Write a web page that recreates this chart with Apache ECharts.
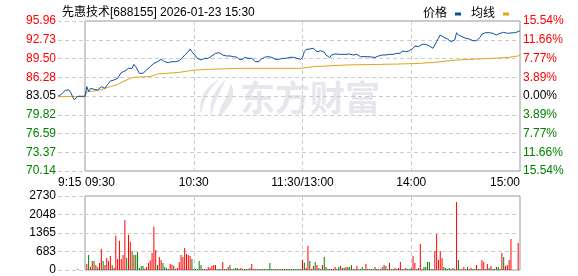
<!DOCTYPE html>
<html>
<head>
<meta charset="utf-8">
<script src="https://cdn.jsdelivr.net/npm/echarts@6/dist/echarts.min.js"></script>
<style>
html,body{margin:0;padding:0;background:#fff;}
#c{width:578px;height:276px;}
</style>
</head>
<body>
<div id="c"></div>
<script>
// ---------- data ----------
var titleText = '先惠技术[688155] 2026-01-23 15:30';
var prevClose = 83.05;
var priceTickLabels = ['70.14','73.37','76.59','79.82','83.05','86.28','89.50','92.73','95.96'];
var pctTickLabels = ['15.54%','11.66%','7.77%','3.89%','0.00%','3.89%','7.77%','11.66%','15.54%'];
var volTickLabels = ['0','683','1365','2048','2730'];
var timeLabels = ['09:30','10:30','11:30/13:00','14:00','15:00'];
var preLabel = '9:15';

// pre-market (minutes relative to 09:30)
var preTimes  = [-15,-13,-11,-10,-9,-8,-7,-6,-5,-4,0];
var prePrices = [83.00,83.40,84.00,84.25,84.10,83.70,83.00,82.40,82.35,83.00,83.00];
var preAvgTimes = [-15,0];
var preAvgValues = [82.95,82.95];
var preVolTimes = [-4];
var preVolValues = [40];

// price per trading minute (index 0 = 09:30 ... 240 = 15:00)
var prices = [
82.99,84.66,83.80,84.37,84.08,84.20,84.20,84.08,84.37,84.66,
84.94,84.37,84.83,85.23,85.63,85.35,85.80,86.09,86.09,86.38,
87.07,87.24,87.35,87.53,87.81,88.10,87.81,88.50,88.10,87.53,
86.95,87.07,86.95,87.24,87.53,87.64,88.10,88.39,88.67,88.79,
88.96,89.25,89.36,89.25,88.96,88.96,88.79,88.50,88.96,89.07,
88.96,89.07,89.13,89.36,89.71,90.11,90.39,90.68,91.14,90.68,
90.39,89.94,89.53,89.36,89.25,89.36,89.53,89.65,89.53,89.71,
89.94,90.22,90.39,90.51,90.51,90.39,90.11,90.22,89.94,90.11,
89.94,90.11,89.82,90.11,89.71,89.36,89.53,89.36,89.71,89.82,
89.53,89.36,89.53,89.25,88.96,89.13,88.96,89.36,89.53,89.71,
89.71,89.82,89.82,89.71,89.71,89.36,89.25,89.36,89.53,89.53,
89.82,89.53,89.36,89.71,89.82,89.71,89.53,89.53,89.53,89.36,
89.71,90.68,91.08,91.14,91.14,91.14,91.26,91.08,90.68,90.51,
90.85,90.57,90.60,90.11,89.94,89.65,90.11,90.22,90.30,90.39,
90.22,90.11,90.22,89.94,90.22,90.39,90.28,90.11,90.11,89.94,
90.22,90.39,89.82,89.94,89.82,89.82,89.82,89.82,89.76,89.71,
89.68,89.65,89.94,89.82,90.11,90.28,90.11,90.22,90.22,90.39,
90.22,90.39,90.39,90.57,90.39,90.80,90.97,90.68,90.97,90.85,
91.14,91.26,91.66,91.83,91.54,91.83,91.94,91.94,91.94,91.83,
91.66,91.54,91.26,91.83,92.40,92.98,93.55,93.43,93.15,93.26,
92.86,92.57,92.40,92.29,92.69,93.95,93.55,93.38,93.26,93.15,
92.98,93.09,92.86,92.69,92.57,92.69,92.57,92.69,93.15,93.72,
93.95,93.95,93.84,93.95,93.95,93.84,93.72,93.55,93.72,93.84,
93.72,94.01,93.72,93.84,93.84,93.90,93.95,93.95,94.01,94.12,
94.30
];

// average price line (minute, value)
var avgTimes  = [0,1,5,8,11,14,18,21,25,27,34,37,40,52,58,61,68,84,119,126,144,174,185,193,196,205,225,234,239,240];
var avgValues = [83.00,83.78,83.91,84.08,84.37,84.66,85.06,85.52,86.09,86.26,86.38,86.49,86.84,87.12,87.41,87.52,87.64,87.81,87.81,88.10,88.39,88.56,88.67,88.85,88.96,89.25,89.53,89.71,89.94,90.05];

// volume per trading minute
var volumes = [
0,220,550,120,330,330,185,100,260,775,
330,185,440,330,515,185,85,1270,405,1080,
405,550,1845,440,1300,1045,700,550,550,665,
75,150,150,50,110,260,355,630,1600,740,
185,480,370,260,110,75,40,220,185,150,
50,75,295,550,480,810,590,550,515,405,
40,40,40,330,185,40,40,40,110,75,
150,185,185,40,40,40,295,40,40,110,
185,40,40,75,75,40,75,40,40,40,
40,75,220,40,40,40,40,40,40,40,
40,40,260,40,40,40,40,40,40,40,
40,40,40,40,40,40,40,40,40,40,
370,270,75,885,330,40,150,295,185,75,
40,185,480,110,40,40,40,40,110,40,
110,150,75,75,110,110,110,185,40,40,
150,40,40,110,40,220,40,40,40,40,
110,40,40,40,110,185,150,40,260,40,
40,75,40,75,295,40,40,75,40,40,
75,515,260,40,75,960,40,110,110,295,
295,40,40,700,1330,370,700,440,110,75,
40,75,40,75,40,2510,370,40,40,110,
40,110,40,75,40,40,185,40,40,370,
295,40,220,75,150,40,40,110,110,40,
630,480,150,185,370,1145,0,0,0,1000,
0
];
// r = up (red), g = down (green)
var volDirs = (
'rrgrrgrgrr'+'grrrrgrrrr'+'rrrgrrgrgg'+'gggrrrrrrr'+'grrgggrrrg'+
'rrrrrrrrrg'+'gggggrrrrr'+'rrrgggrrgg'+'rggggrrggr'+'ggrrrgrggr'+
'gggggrggrg'+'gggggggggg'+'rgrrgrrgrg'+'grggrgrrrg'+'grggrrgggr'+
'rggggrggrr'+'grrrgrgrrg'+'grrrrgrrgg'+'grrgrrrggg'+'grgrrrrrgg'+
'ggrgrrggrr'+'rgrrrgrgrr'+'rrrgrrgggr'+'rgrrrrrrrr'+'r').split('');

// ---------- chart ----------
var FONT = "'Liberation Sans','Noto Sans CJK SC',sans-serif";
var BLUE = '#0b4fa2', ORANGE = '#e0a31a', RED = '#ff0000', GREEN = '#008000';
var GRIDC = '#cccccc', BORDER = '#999999', WM = '#e6e6ec';
var PMIN = 70.14, PMAX = 95.96, PINT = (PMAX - PMIN) / 8;
var VMAX = 2730, VINT = VMAX / 4;

function zip(a, b) { return a.map(function (t, i) { return [t, b[i]]; }); }
function priceIdx(v) { return Math.round((v - PMIN) / PINT); }
function tierStyle(i) { return i > 4 ? 'r' : (i < 4 ? 'g' : 'k'); }

var dash = { color: GRIDC, type: [4, 3], width: 1 };
var rich = {
  r: { color: RED, fontFamily: FONT, fontSize: 12 },
  g: { color: GREEN, fontFamily: FONT, fontSize: 12 },
  k: { color: '#000', fontFamily: FONT, fontSize: 12 }
};

var chart = echarts.init(document.getElementById('c'), null, { renderer: 'canvas' });
chart.setOption({
  animation: false,
  textStyle: { fontFamily: FONT },
  title: {
    text: titleText, left: 57, top: 2,
    textStyle: { fontSize: 12, fontWeight: 'normal', color: '#000', fontFamily: FONT }
  },
  legend: {
    right: 64, top: 3, align: 'right', icon: 'rect',
    itemWidth: 6, itemHeight: 3, itemGap: 10,
    data: ['价格', '均线'],
    textStyle: { fontSize: 12, color: '#000', fontFamily: FONT, padding: [0, 3, 0, 0] }
  },
  graphic: [
    { type: 'text', left: 240, top: 80, z: 0, silent: true,
      style: { text: '东方财富', fontSize: 35, fontWeight: 'bold', fill: WM,
               fontFamily: "'Noto Sans CJK SC',sans-serif" } },
    { type: 'polygon', z: 0, silent: true,
      shape: { points: [[219,79],[208,88],[201,100],[201,113],[205,100],[211,89]], smooth: 0.4 },
      style: { fill: WM } },
    { type: 'polygon', z: 0, silent: true,
      shape: { points: [[225,80],[216,91],[211,103],[211,115],[215,103],[220,92]], smooth: 0.4 },
      style: { fill: WM } },
    { type: 'polygon', z: 0, silent: true,
      shape: { points: [[231,84],[227,96],[221,107],[219,116],[228,107],[233,96]], smooth: 0.4 },
      style: { fill: WM } }
  ],
  grid: [
    { left: 58, width: 27, top: 21, height: 150 },
    { left: 85, width: 435, top: 21, height: 150, show: true, borderColor: BORDER, borderWidth: 1, backgroundColor: 'transparent' },
    { left: 58, width: 27, top: 196, height: 74 },
    { left: 85, width: 435, top: 196, height: 74, show: true, borderColor: BORDER, borderWidth: 1, backgroundColor: 'transparent' }
  ],
  xAxis: [
    { gridIndex: 0, type: 'value', min: -15, max: 0, interval: 15,
      axisLine: { show: false }, axisTick: { show: false }, splitLine: { show: false },
      axisLabel: { show: true, margin: 6, fontSize: 12, color: '#000', align: 'left',
        formatter: function (v) { return v === -15 ? preLabel : ''; } } },
    { gridIndex: 1, type: 'value', min: 0, max: 240, interval: 60,
      axisLine: { show: false }, axisTick: { show: false },
      splitLine: { show: true, lineStyle: dash, showMinLine: false, showMaxLine: false },
      axisLabel: { show: true, margin: 6, fontSize: 12, color: '#000',
        alignMinLabel: 'left', alignMaxLabel: 'right',
        formatter: function (v) { return timeLabels[Math.round(v / 60)]; } } },
    { gridIndex: 2, type: 'value', min: -15, max: 0, interval: 15,
      axisLine: { show: false }, axisTick: { show: false }, splitLine: { show: false },
      axisLabel: { show: false } },
    { gridIndex: 3, type: 'value', min: 0, max: 240, interval: 60,
      axisLine: { show: false }, axisTick: { show: false },
      splitLine: { show: true, lineStyle: dash, showMinLine: false, showMaxLine: false },
      axisLabel: { show: false } }
  ],
  yAxis: [
    { gridIndex: 0, type: 'value', min: PMIN, max: PMAX, interval: PINT, position: 'left',
      axisLine: { show: false }, axisTick: { show: false },
      splitLine: { show: true, lineStyle: dash },
      axisLabel: { margin: 2, fontSize: 12, rich: rich,
        formatter: function (v) { var i = priceIdx(v); return '{' + tierStyle(i) + '|' + priceTickLabels[i] + '}'; } } },
    { gridIndex: 1, type: 'value', min: PMIN, max: PMAX, interval: PINT, position: 'right',
      axisLine: { show: false }, axisTick: { show: false },
      splitLine: { show: true, lineStyle: dash, showMinLine: false, showMaxLine: false },
      axisLabel: { margin: 3, fontSize: 12, rich: rich,
        formatter: function (v) { var i = priceIdx(v); return '{' + tierStyle(i) + '|' + pctTickLabels[i] + '}'; } } },
    { gridIndex: 2, type: 'value', min: 0, max: VMAX, interval: VINT, position: 'left',
      axisLine: { show: false }, axisTick: { show: false },
      splitLine: { show: true, lineStyle: dash },
      axisLabel: { margin: 2, fontSize: 12, color: '#000',
        formatter: function (v) { return volTickLabels[Math.round(v / VINT)]; } } },
    { gridIndex: 3, type: 'value', min: 0, max: VMAX, interval: VINT, position: 'left',
      axisLine: { show: false }, axisTick: { show: false },
      splitLine: { show: true, lineStyle: dash, showMinLine: false, showMaxLine: false },
      axisLabel: { show: false } }
  ],
  series: [
    { name: '均线', type: 'line', xAxisIndex: 0, yAxisIndex: 0, showSymbol: false, color: ORANGE,
      lineStyle: { width: 1, color: ORANGE }, data: zip(preAvgTimes, preAvgValues), z: 3 },
    { name: '价格', type: 'line', xAxisIndex: 0, yAxisIndex: 0, showSymbol: false, color: BLUE,
      lineStyle: { width: 1, color: BLUE }, data: zip(preTimes, prePrices), z: 4 },
    { name: '均线', type: 'line', xAxisIndex: 1, yAxisIndex: 1, showSymbol: false, color: ORANGE,
      lineStyle: { width: 1, color: ORANGE }, data: zip(avgTimes, avgValues), z: 3 },
    { name: '价格', type: 'line', xAxisIndex: 1, yAxisIndex: 1, showSymbol: false, color: BLUE,
      lineStyle: { width: 1, color: BLUE }, data: prices.map(function (p, i) { return [i, p]; }), z: 4 },
    { name: 'preVol', type: 'bar', xAxisIndex: 2, yAxisIndex: 2, barWidth: 1,
      itemStyle: { color: RED }, data: zip(preVolTimes, preVolValues) },
    { name: 'vol', type: 'bar', xAxisIndex: 3, yAxisIndex: 3, barWidth: 1,
      data: volumes.map(function (v, i) {
        return { value: [i, v], itemStyle: { color: volDirs[i] === 'r' ? RED : GREEN } };
      }) }
  ]
});
</script>
</body>
</html>
